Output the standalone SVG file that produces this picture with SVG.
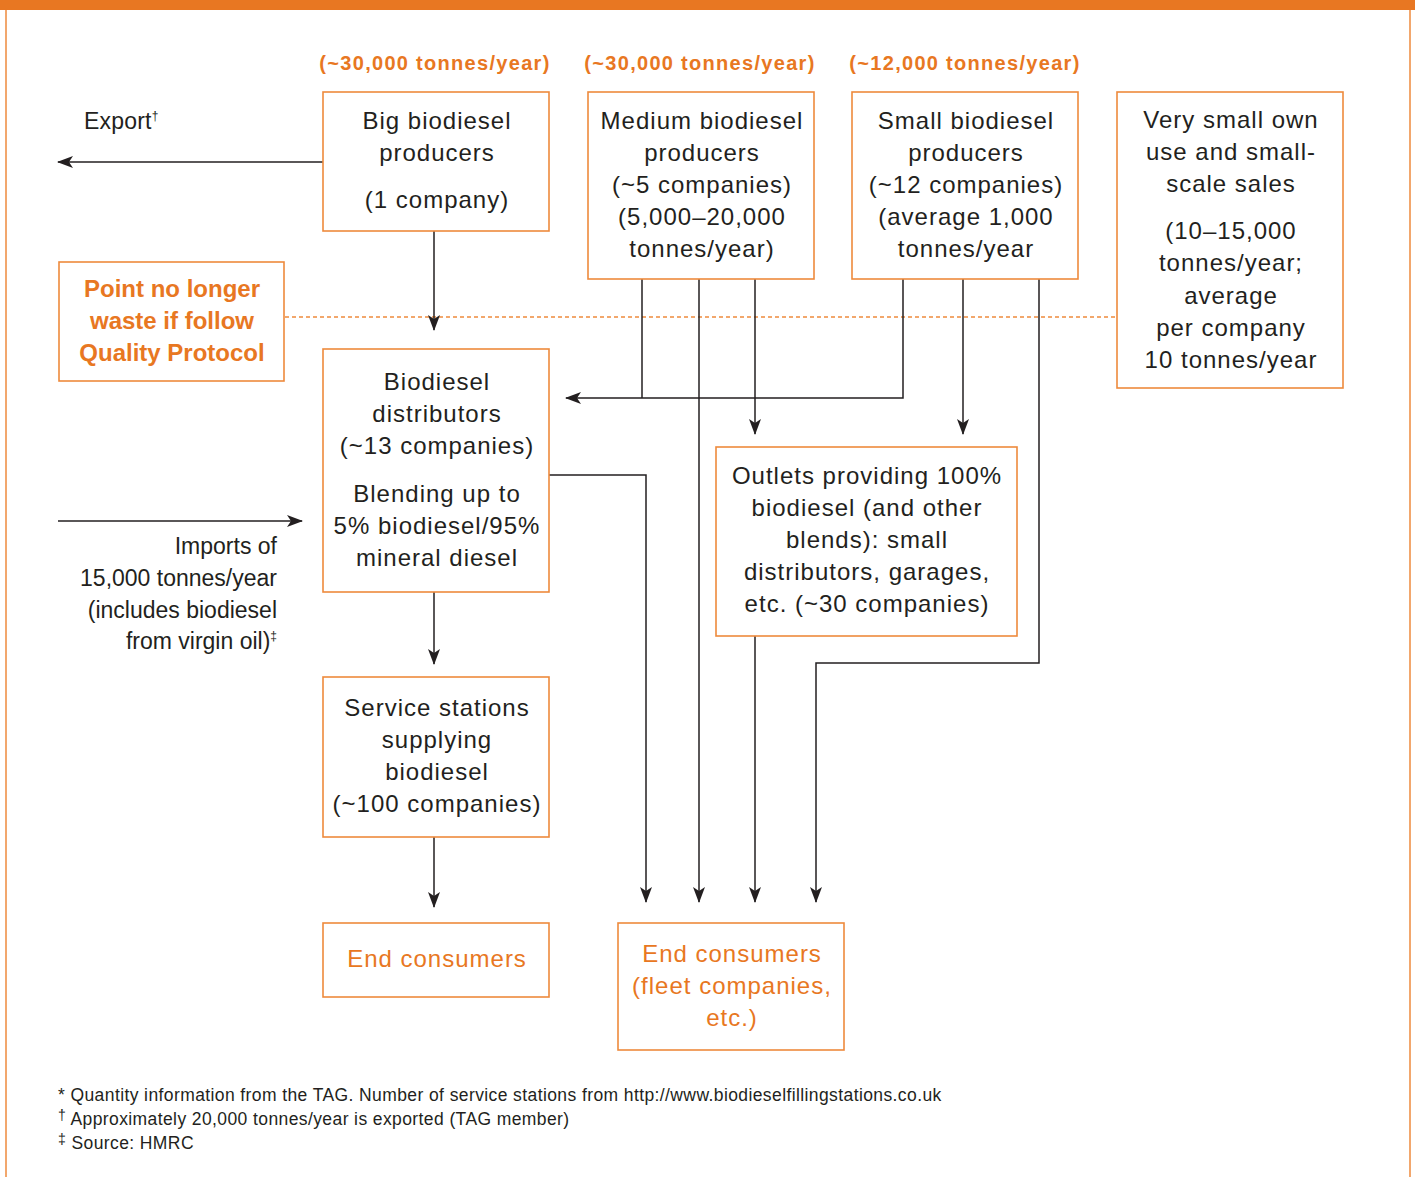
<svg xmlns="http://www.w3.org/2000/svg" width="1415" height="1177" viewBox="0 0 1415 1177">
<style>
.box{fill:#fff;stroke:#EE8A3C;stroke-width:1.6}
.t{font-family:"Liberation Sans",Arial,sans-serif;font-size:24px;letter-spacing:1px;fill:#231F20;text-anchor:middle}
.s{font-size:23px;letter-spacing:0px;text-anchor:end}
.o{fill:#E87722}
.ob{font-family:"Liberation Sans",Arial,sans-serif;font-weight:bold;fill:#E87722;text-anchor:middle}
.ln{fill:none;stroke:#231F20;stroke-width:1.5}
.fn{font-family:"Liberation Sans",Arial,sans-serif;font-size:17.5px;letter-spacing:0.4px;fill:#231F20}
</style>
<defs>
<marker id="ah" viewBox="0 0 16 12" refX="15" refY="6" markerWidth="16" markerHeight="12" markerUnits="userSpaceOnUse" orient="auto">
<path d="M0,0 L16,6 L0,12 L4,6 Z" fill="#231F20"/>
</marker>
</defs>
<rect x="0" y="0" width="1415" height="1177" fill="#fff"/>
<rect x="0" y="0" width="1415" height="10" fill="#E87722"/>
<line x1="6" y1="10" x2="6" y2="1177" stroke="#EE8A3C" stroke-width="1.5"/>
<line x1="1410" y1="10" x2="1410" y2="1177" stroke="#EE8A3C" stroke-width="1.5"/>

<g id="labels">
<text class="ob" font-size="20" letter-spacing="1.3" x="435" y="70">(~30,000 tonnes/year)</text>
<text class="ob" font-size="20" letter-spacing="1.3" x="700" y="70">(~30,000 tonnes/year)</text>
<text class="ob" font-size="20" letter-spacing="1.3" x="965" y="70">(~12,000 tonnes/year)</text>
<text class="t" x="84" y="129" style="text-anchor:start;font-size:23px;letter-spacing:0.2px">Export<tspan font-size="12" dy="-9">†</tspan></text>
<text class="t s" x="277" y="554">Imports of</text>
<text class="t s" x="277" y="586">15,000 tonnes/year</text>
<text class="t s" x="277" y="618">(includes biodiesel</text>
<text class="t s" x="277" y="649">from virgin oil)<tspan font-size="12" dy="-9">‡</tspan></text>
</g>

<line x1="285" y1="317" x2="1117" y2="317" stroke="#EE8A3C" stroke-width="1.5" stroke-dasharray="4,3"/>

<g id="connectors">
<path class="ln" d="M323,162 H58" marker-end="url(#ah)"/>
<path class="ln" d="M434,231 V330" marker-end="url(#ah)"/>
<path class="ln" d="M642,279 V398"/>
<path class="ln" d="M903,279 V398 H566" marker-end="url(#ah)"/>
<path class="ln" d="M699,279 V902" marker-end="url(#ah)"/>
<path class="ln" d="M755,279 V434" marker-end="url(#ah)"/>
<path class="ln" d="M963,279 V434" marker-end="url(#ah)"/>
<path class="ln" d="M1039,279 V663 H816 V902" marker-end="url(#ah)"/>
<path class="ln" d="M549,475 H646 V902" marker-end="url(#ah)"/>
<path class="ln" d="M755,636 V902" marker-end="url(#ah)"/>
<path class="ln" d="M58,521 H302" marker-end="url(#ah)"/>
<path class="ln" d="M434,592 V664" marker-end="url(#ah)"/>
<path class="ln" d="M434,837 V907" marker-end="url(#ah)"/>
</g>

<g id="big">
<rect class="box" x="323" y="92" width="226" height="139"/>
<text class="t" x="437" y="129">Big biodiesel</text>
<text class="t" x="437" y="161">producers</text>
<text class="t" x="437" y="208">(1 company)</text>
</g>
<g id="medium">
<rect class="box" x="588" y="92" width="226" height="187"/>
<text class="t" x="702" y="129">Medium biodiesel</text>
<text class="t" x="702" y="161">producers</text>
<text class="t" x="702" y="193">(~5 companies)</text>
<text class="t" x="702" y="225">(5,000–20,000</text>
<text class="t" x="702" y="257">tonnes/year)</text>
</g>
<g id="small">
<rect class="box" x="852" y="92" width="226" height="187"/>
<text class="t" x="966" y="129">Small biodiesel</text>
<text class="t" x="966" y="161">producers</text>
<text class="t" x="966" y="193">(~12 companies)</text>
<text class="t" x="966" y="225">(average 1,000</text>
<text class="t" x="966" y="257">tonnes/year</text>
</g>
<g id="verysmall">
<rect class="box" x="1117" y="92" width="226" height="296"/>
<text class="t" x="1231" y="128">Very small own</text>
<text class="t" x="1231" y="160">use and small-</text>
<text class="t" x="1231" y="192">scale sales</text>
<text class="t" x="1231" y="239">(10–15,000</text>
<text class="t" x="1231" y="271">tonnes/year;</text>
<text class="t" x="1231" y="304">average</text>
<text class="t" x="1231" y="336">per company</text>
<text class="t" x="1231" y="368">10 tonnes/year</text>
</g>
<g id="point">
<rect class="box" x="59" y="262" width="225" height="119"/>
<text class="ob" font-size="24" x="172" y="297">Point no longer</text>
<text class="ob" font-size="24" x="172" y="329">waste if follow</text>
<text class="ob" font-size="24" x="172" y="361">Quality Protocol</text>
</g>
<g id="distributors">
<rect class="box" x="323" y="349" width="226" height="243"/>
<text class="t" x="437" y="390">Biodiesel</text>
<text class="t" x="437" y="422">distributors</text>
<text class="t" x="437" y="454">(~13 companies)</text>
<text class="t" x="437" y="502">Blending up to</text>
<text class="t" x="437" y="534">5% biodiesel/95%</text>
<text class="t" x="437" y="566">mineral diesel</text>
</g>
<g id="outlets">
<rect class="box" x="716" y="447" width="301" height="189"/>
<text class="t" x="867" y="484">Outlets providing 100%</text>
<text class="t" x="867" y="516">biodiesel (and other</text>
<text class="t" x="867" y="548">blends): small</text>
<text class="t" x="867" y="580">distributors, garages,</text>
<text class="t" x="867" y="612">etc. (~30 companies)</text>
</g>
<g id="service">
<rect class="box" x="323" y="677" width="226" height="160"/>
<text class="t" x="437" y="716">Service stations</text>
<text class="t" x="437" y="748">supplying</text>
<text class="t" x="437" y="780">biodiesel</text>
<text class="t" x="437" y="812">(~100 companies)</text>
</g>
<g id="end1">
<rect class="box" x="323" y="923" width="226" height="74"/>
<text class="t o" x="437" y="967">End consumers</text>
</g>
<g id="end2">
<rect class="box" x="618" y="923" width="226" height="127"/>
<text class="t o" x="732" y="962">End consumers</text>
<text class="t o" x="732" y="994">(fleet companies,</text>
<text class="t o" x="732" y="1026">etc.)</text>
</g>

<g id="footnotes">
<text class="fn" x="58" y="1101">* Quantity information from the TAG. Number of service stations from http://www.biodieselfillingstations.co.uk</text>
<text class="fn" x="58" y="1125"><tspan font-size="14" dy="-5">†</tspan><tspan dy="5"> Approximately 20,000 tonnes/year is exported (TAG member)</tspan></text>
<text class="fn" x="58" y="1149"><tspan font-size="14" dy="-5">‡</tspan><tspan dy="5"> Source: HMRC</tspan></text>
</g>
</svg>
